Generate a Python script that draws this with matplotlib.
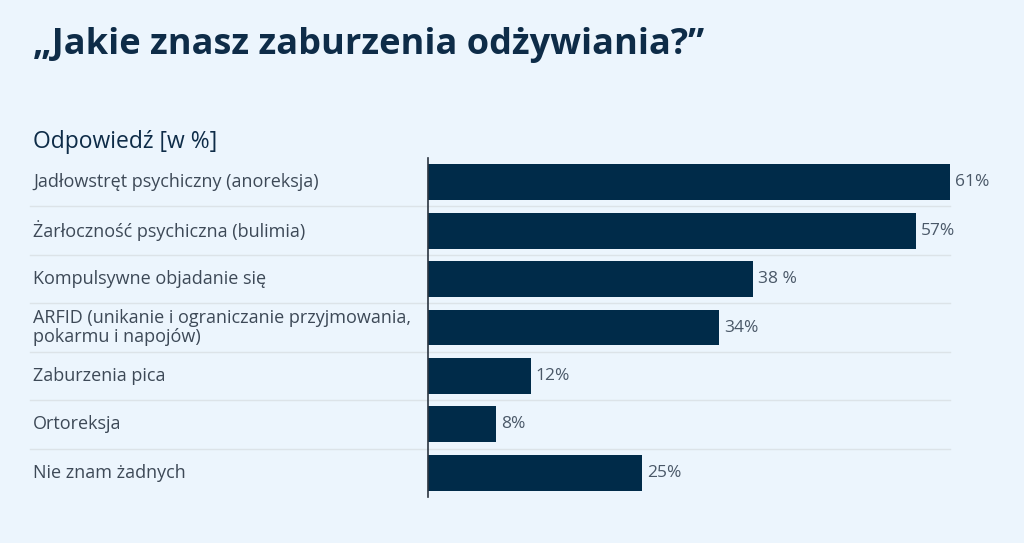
import matplotlib
matplotlib.use("Agg")
import matplotlib.pyplot as plt
from matplotlib.transforms import blended_transform_factory

# data
categories = [
    "Jadłowstręt psychiczny (anoreksja)",
    "Żarłoczność psychiczna (bulimia)",
    "Kompulsywne objadanie się",
    "ARFID (unikanie i ograniczanie przyjmowania,\npokarmu i napojów)",
    "Zaburzenia pica",
    "Ortoreksja",
    "Nie znam żadnych",
]
values = [61, 57, 38, 34, 12, 8, 25]
value_labels = ["61%", "57%", "38 %", "34%", "12%", "8%", "25%"]

title = "„Jakie znasz zaburzenia odżywiania?”"
subtitle = "Odpowiedź [w %]"

bg = "#ECF5FD"
bar_color = "#002B49"
navy = "#0E2C48"
gray_text = "#3D4957"
sep_color = "#DCE3E8"

plt.rcParams['font.family'] = ['Open Sans', 'DejaVu Sans']

W, H = 1024, 543
fig = plt.figure(figsize=(W / 100, H / 100), dpi=100, facecolor=bg)

# axes placed in pixel terms
left, right, top, bottom = 428, 950, 158, 497
ax = fig.add_axes([left / W, 1 - bottom / H, (right - left) / W, (bottom - top) / H])
ax.set_facecolor(bg)

y = list(range(len(categories)))
ax.barh(y, values, height=0.74, color=bar_color, zorder=3)
ax.set_xlim(0, 61)
ax.set_ylim(len(categories) - 0.5, -0.5)

for s in ["top", "right", "bottom"]:
    ax.spines[s].set_visible(False)
ax.spines["left"].set_color("#2B3440")
ax.spines["left"].set_linewidth(1.2)
ax.spines["left"].set_zorder(4)
ax.set_xticks([])
ax.set_yticks([])

# row separators spanning label area and bars
sep_tr = blended_transform_factory(fig.transFigure, ax.transData)
for i in range(len(categories) - 1):
    ax.plot([30 / W, right / W], [i + 0.5, i + 0.5], transform=sep_tr,
            color=sep_color, lw=1, clip_on=False, zorder=1)

# category labels
for i, cat in enumerate(categories):
    ax.text(33 / W, i, cat, transform=sep_tr, ha="left", va="center",
            fontsize=13, color=gray_text, linespacing=1.08)

# value labels
for i, (v, lab) in enumerate(zip(values, value_labels)):
    ax.text(v + 0.6, i, lab, ha="left", va="center", fontsize=12.5,
            color="#4A5868", clip_on=False)

fig.text(33 / W, 1 - 45 / H, title, ha="left", va="center", fontsize=26,
         fontweight="bold", color=navy)
fig.text(33 / W, 1 - 142 / H, subtitle, ha="left", va="center", fontsize=16.5,
         fontweight="medium", color=navy)

fig.savefig("out.png", dpi=100, facecolor=bg)
